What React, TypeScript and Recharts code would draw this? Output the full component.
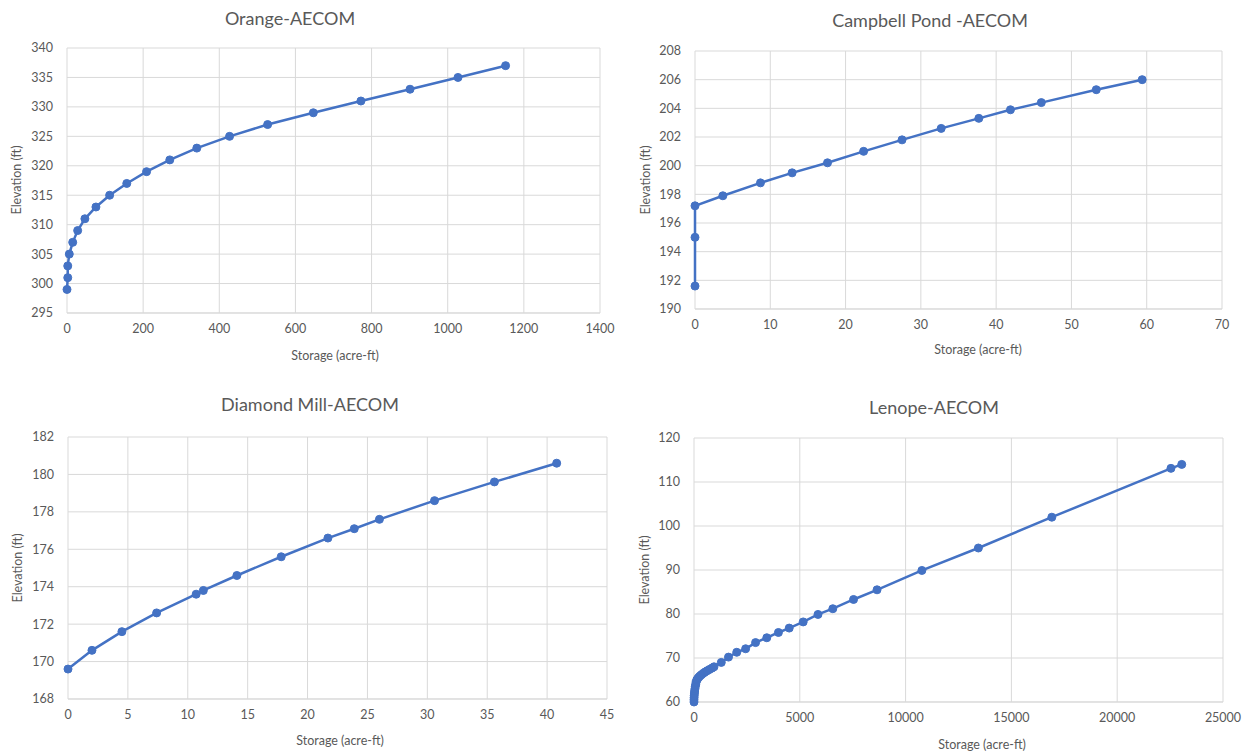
import type { ReactNode } from 'react';
import { LineChart, Line, XAxis, YAxis, CartesianGrid } from 'recharts';

// Orange-AECOM
const orangeStorage = [0, 2, 2, 6, 15, 28, 47, 76, 112, 157, 209, 270, 341, 427, 527, 647, 772, 901, 1027, 1152];
const orangeElev = [299, 301, 303, 305, 307, 309, 311, 313, 315, 317, 319, 321, 323, 325, 327, 329, 331, 333, 335, 337];
const orangeXTicks = [0, 200, 400, 600, 800, 1000, 1200, 1400];
const orangeYTicks = [295, 300, 305, 310, 315, 320, 325, 330, 335, 340];

// Campbell Pond -AECOM
const campbellStorage = [0, 0, 0, 3.7, 8.7, 12.9, 17.6, 22.4, 27.5, 32.7, 37.7, 41.9, 46.0, 53.3, 59.4];
const campbellElev = [191.6, 195.0, 197.2, 197.9, 198.8, 199.5, 200.2, 201.0, 201.8, 202.6, 203.3, 203.9, 204.4, 205.3, 206.0];
const campbellXTicks = [0, 10, 20, 30, 40, 50, 60, 70];
const campbellYTicks = [190, 192, 194, 196, 198, 200, 202, 204, 206, 208];

// Diamond Mill-AECOM
const diamondStorage = [0, 2.0, 4.5, 7.4, 10.7, 11.3, 14.1, 17.8, 21.7, 23.9, 26.0, 30.6, 35.6, 40.8];
const diamondElev = [169.6, 170.6, 171.6, 172.6, 173.6, 173.8, 174.6, 175.6, 176.6, 177.1, 177.6, 178.6, 179.6, 180.6];
const diamondXTicks = [0, 5, 10, 15, 20, 25, 30, 35, 40, 45];
const diamondYTicks = [168, 170, 172, 174, 176, 178, 180, 182];

// Lenope-AECOM
const lenopeStorage = [
  0, 0, 5, 10, 20, 30, 45, 60, 80, 100, 130, 170, 220, 280, 350, 430, 520, 620, 730, 850, 945,
  1290, 1630, 2020, 2440, 2910, 3440, 3990, 4500, 5160, 5860, 6560, 7540, 8650, 10770, 13440, 16910, 22540, 23050,
];
const lenopeElev = [
  60, 60.5, 61, 61.5, 62, 62.5, 63, 63.5, 64, 64.5, 65, 65.3, 65.6, 65.9, 66.2, 66.5, 66.8, 67.1, 67.4, 67.7, 68.0,
  69.0, 70.2, 71.3, 72.1, 73.5, 74.6, 75.8, 76.8, 78.2, 79.9, 81.2, 83.3, 85.5, 89.9, 95.0, 102.0, 113.1, 114.0,
];
const lenopeXTicks = [0, 5000, 10000, 15000, 20000, 25000];
const lenopeYTicks = [60, 70, 80, 90, 100, 110, 120];

const FONT = 'Lato, "Open Sans", sans-serif';
const TEXT = '#595959';
const GRID = '#d9d9d9';
const BLUE = '#4472C4';

const zip = (xs: number[], ys: number[]) => xs.map((s, i) => ({ s, e: ys[i] }));
const first = (t: number[]) => t[0];
const last = (t: number[]) => t[t.length - 1];

interface PanelProps {
  title: string;
  storage: number[];
  elev: number[];
  xTicks: number[];
  yTicks: number[];
  plotLeft: number;
  plotTop: number;
  plotW: number;
  plotH: number;
  titleX: number;
  titleY: number;
  xLabelX: number;
  xLabelY: number;
  yLabelX: number;
  yLabelY: number;
}

function Panel(p: PanelProps): ReactNode {
  const data = zip(p.storage, p.elev);
  const yAxisW = 60;
  const xAxisH = 30;
  const padTop = 10;
  const padRight = 25;
  return (
    <>
      <div
        style={{
          position: 'absolute',
          left: p.titleX - 200,
          top: p.titleY - 12,
          width: 400,
          textAlign: 'center',
          fontSize: 18,
          color: TEXT,
          lineHeight: '24px',
        }}
      >
        {p.title}
      </div>
      <div
        style={{
          position: 'absolute',
          left: p.xLabelX - 100,
          top: p.xLabelY - 8,
          width: 200,
          textAlign: 'center',
          fontSize: 12.5,
          color: TEXT,
          lineHeight: '16px',
        }}
      >
        Storage (acre-ft)
      </div>
      <div
        style={{
          position: 'absolute',
          left: p.yLabelX - 100,
          top: p.yLabelY - 8,
          width: 200,
          textAlign: 'center',
          fontSize: 12.5,
          color: TEXT,
          lineHeight: '16px',
          transform: 'rotate(-90deg)',
        }}
      >
        Elevation (ft)
      </div>
      <div style={{ position: 'absolute', left: p.plotLeft - yAxisW, top: p.plotTop - padTop }}>
        <LineChart
          width={yAxisW + p.plotW + padRight}
          height={padTop + p.plotH + xAxisH}
          data={data}
          margin={{ top: padTop, right: padRight, left: 0, bottom: 0 }}
        >
          <CartesianGrid stroke={GRID} />
          <XAxis
            type="number"
            dataKey="s"
            domain={[first(p.xTicks), last(p.xTicks)]}
            ticks={p.xTicks}
            interval={0}
            height={xAxisH}
            tickLine={false}
            axisLine={{ stroke: GRID }}
            tick={{ fill: TEXT, fontSize: 12.5, fontFamily: FONT }}
            tickMargin={5}
          />
          <YAxis
            type="number"
            domain={[first(p.yTicks), last(p.yTicks)]}
            ticks={p.yTicks}
            interval={0}
            width={yAxisW}
            tickLine={false}
            axisLine={false}
            tick={{ fill: TEXT, fontSize: 12.5, fontFamily: FONT }}
            tickMargin={8}
          />
          <Line
            type="linear"
            dataKey="e"
            stroke={BLUE}
            strokeWidth={2.5}
            dot={{ r: 4, fill: BLUE, stroke: BLUE, strokeWidth: 1 }}
            activeDot={false}
            isAnimationActive={false}
          />
        </LineChart>
      </div>
    </>
  );
}

export default function App(): ReactNode {
  return (
    <div
      style={{
        position: 'absolute',
        left: 0,
        top: 0,
        width: 1247,
        height: 755,
        background: '#fff',
        fontFamily: FONT,
        overflow: 'hidden',
      }}
    >
      <Panel
        title="Orange-AECOM"
        storage={orangeStorage}
        elev={orangeElev}
        xTicks={orangeXTicks}
        yTicks={orangeYTicks}
        plotLeft={67}
        plotTop={48}
        plotW={533}
        plotH={265}
        titleX={290}
        titleY={18}
        xLabelX={335}
        xLabelY={356}
        yLabelX={17}
        yLabelY={180}
      />
      <Panel
        title="Campbell Pond -AECOM"
        storage={campbellStorage}
        elev={campbellElev}
        xTicks={campbellXTicks}
        yTicks={campbellYTicks}
        plotLeft={695}
        plotTop={51}
        plotW={527}
        plotH={258}
        titleX={930}
        titleY={20}
        xLabelX={978}
        xLabelY={350}
        yLabelX={646}
        yLabelY={180}
      />
      <Panel
        title="Diamond Mill-AECOM"
        storage={diamondStorage}
        elev={diamondElev}
        xTicks={diamondXTicks}
        yTicks={diamondYTicks}
        plotLeft={68}
        plotTop={437}
        plotW={539}
        plotH={262}
        titleX={310}
        titleY={404}
        xLabelX={340}
        xLabelY={741}
        yLabelX={18}
        yLabelY={568}
      />
      <Panel
        title="Lenope-AECOM"
        storage={lenopeStorage}
        elev={lenopeElev}
        xTicks={lenopeXTicks}
        yTicks={lenopeYTicks}
        plotLeft={694}
        plotTop={438}
        plotW={529}
        plotH={264}
        titleX={934}
        titleY={407}
        xLabelX={982}
        xLabelY={745}
        yLabelX={645}
        yLabelY={570}
      />
    </div>
  );
}
